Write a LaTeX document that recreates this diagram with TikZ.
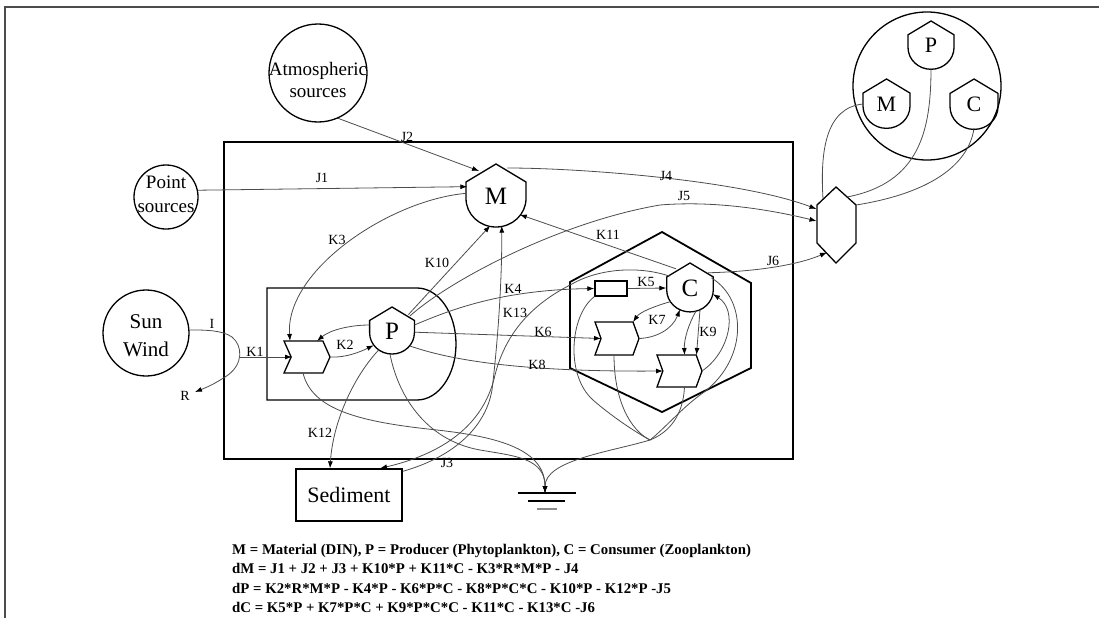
\documentclass[tikz,border=0pt]{standalone}
\usepackage{fontspec}
\setmainfont{Liberation Serif}
\usetikzlibrary{arrows.meta,shapes.symbols,calc}
\newcommand{\shieldshape}[3]{%
  \draw[shp] (#1,#2) -- ({#1+#3},{#2+0.6*#3}) -- ({#1+#3},{#2+1.15*#3})
   .. controls ({#1+#3},{#2+1.674*#3}) and ({#1+0.552*#3},{#2+2.1*#3}) .. (#1,{#2+2.1*#3})
   .. controls ({#1-0.552*#3},{#2+2.1*#3}) and ({#1-#3},{#2+1.674*#3}) .. ({#1-#3},{#2+1.15*#3})
   -- ({#1-#3},{#2+0.6*#3}) -- cycle;}
\begin{document}
\begin{tikzpicture}[x=1pt,y=-1pt,
  conn/.style={draw=black!70, line width=0.8pt},
  arr/.style={conn, -{Latex[length=7pt,width=5pt,color=black]}},
  shp/.style={draw=black, line width=1.3pt},
  lab/.style={font=\fontsize{14}{15}\selectfont, inner sep=0pt},
  anc/.style={circle, inner sep=0pt},
  big/.style={align=center, inner sep=0pt},
  chev/.style={signal, signal from=west, signal to=east, draw=black, line width=1.3pt, inner sep=0pt},
  eqn/.style={anchor=base west, font=\bfseries\fontsize{14.8}{16}\selectfont, inner sep=0pt},
]
\useasboundingbox (0,0) rectangle (1099,618);
\draw[line width=2pt, black!70] (5,618) -- (5,7) -- (1099,7);

% main box
\draw[draw=black, line width=2.4pt] (224,142) rectangle (793,459);
% producer compartment
\draw[shp] (267,288) -- (417,288) .. controls (438.5,288) and (456,313) .. (456,344) .. controls (456,375) and (438.5,400) .. (417,400) -- (267,400) -- cycle;
% consumer hexagon
\draw[line width=1.8pt] (662,232) -- (751,283) -- (751,368) -- (662,412) -- (570,368) -- (570,282) -- cycle;

% sources
\node[circle, shp, minimum size=98pt, inner sep=0pt] (atm) at (318,73) {};
\node[big, font=\fontsize{19}{22}\selectfont] (atmtxt) at (318,80) {Atmospheric\\sources};
\node[circle, shp, minimum size=64pt, inner sep=0pt] (pts) at (166,197) {};
\node[big, font=\fontsize{19}{24}\selectfont] (ptstxt) at (166,194) {Point\\sources};
\node[circle, shp, minimum size=86pt, inner sep=0pt] (sun) at (146,333) {};
\node[big, font=\fontsize{21}{28}\selectfont] (suntxt) at (146,336) {Sun\\Wind};

% state variables
\shieldshape{496}{164}{30}
\node[anc, minimum size=60pt, font=\fontsize{25}{25}\selectfont] (Mn) at (496,196) {M};
\shieldshape{392}{307}{22.4}
\node[anc, minimum size=46pt, font=\fontsize{25}{25}\selectfont] (Pn) at (392,331) {P};
\shieldshape{690}{263}{23.3}
\node[anc, minimum size=47pt, font=\fontsize{25}{25}\selectfont] (Cn) at (690,288) {C};

% processes
\node[chev, signal pointer angle=132, minimum width=46pt, minimum height=32pt] (ch1) at (307,357) {};
\node[chev, signal pointer angle=140, minimum width=44pt, minimum height=33pt] (ch6) at (617,338.5) {};
\node[chev, signal pointer angle=140, minimum width=45pt, minimum height=32pt] (ch8) at (679.5,371) {};
\node[draw, line width=1.3pt, minimum width=32pt, minimum height=15pt, inner sep=0pt] (rim) at (611,288.5) {};

% sediment
\node[shp, minimum width=106pt, minimum height=52pt, font=\fontsize{22}{24}\selectfont, inner sep=0pt] (sed) at (349,495) {Sediment};

% export
\node[minimum width=39pt, minimum height=76pt, inner sep=0pt] (exh) at (836,225) {};
\draw[shp] (836,187) -- (856,205) -- (856,243) -- (836,263) -- (817,243) -- (817,205) -- cycle;

% pool
\node[circle, shp, minimum size=148pt, inner sep=0pt] (pool) at (927,86) {};
\shieldshape{931}{21}{23}
\node[anc, minimum size=46pt, font=\fontsize{22}{22}\selectfont] (tPn) at (931,45) {P};
\shieldshape{886.5}{79}{23.5}
\node[anc, minimum size=47pt, font=\fontsize{22}{22}\selectfont] (tMn) at (886.5,104) {M};
\shieldshape{974}{79}{24}
\node[anc, minimum size=48pt, font=\fontsize{22}{22}\selectfont] (tCn) at (974,104) {C};

% ground
\coordinate (gnd) at (545,493);
\draw[line width=1.2pt] (518,493) -- (576,493);
\draw[line width=1.2pt] (528,501) -- (565,501);
\draw[line width=1.2pt, black!45] (537,509) -- (557,509);

\coordinate (Rpt) at (195,392);
\coordinate (k1s) at (240,357);
\coordinate (jc) at (650,440);

% connectors
\draw[arr] (pts.12) -- (Mn.162);
\draw[arr] (atm.-66) -- (Mn.124);
\draw[arr] (Mn.68) .. controls (580,168) and (740,180) .. ($(exh.center)+(-19.5,-16)$);
\draw[arr] (Pn.40) .. controls (450,280) and (560,222) .. (660,205) .. controls (720,200) and (780,212) .. ($(exh.center)+(-19.5,-4)$);
\draw[arr] (Cn.40) .. controls (740,272) and (790,268) .. ($(exh.center)+(-9,27.5)$);

\draw[arr] (sun.4) .. controls (205,330) and (222,330) .. (232,337) .. controls (243,346) and (243,364) .. (228,375) .. controls (215,384) and (205,388) .. (Rpt);
\draw[arr] (k1s) -- ($(ch1.center)+(-15,0)$);

\draw[arr] (Pn.165) .. controls (350,325) and (330,330) .. ($(ch1.center)+(10,-16)$);
\draw[arr] ($(ch1.center)+(23,0)$) .. controls (345,358) and (360,352) .. (Pn.218);
\draw[arr] (Mn.175) .. controls (390,200) and (285,270) .. ($(ch1.center)+(-17,-16)$);

\draw[arr] (Pn.45) -- (Mn.-101);
\draw[arr] (Pn.15) .. controls (450,310) and (500,290) .. (rim.west);
\draw[arr] (Pn.-3) -- ($(ch6.center)+(-16,0)$);
\draw[arr] (Pn.-40) .. controls (450,360) and (520,372) .. ($(ch8.center)+(-16.5,0)$);
\draw[arr] (rim.east) -- (Cn.180);
\draw[arr] (Cn.126) -- (Mn.-38);

\draw[arr] (Cn.215) .. controls (655,306) and (640,312) .. ($(ch6.center)+(16,-16.5)$);
\draw[arr] ($(ch6.center)+(22,0)$) .. controls (655,338) and (672,330) .. (Cn.245);
\draw[arr] (Cn.-65) -- ($(ch8.center)+(17,-16)$);
\draw[arr] (Cn.-75) .. controls (688,325) and (684,340) .. ($(ch8.center)+(5,-16)$);
\draw[arr] ($(ch8.center)+(22.5,0)$) .. controls (730,352) and (738,310) .. (Cn.-15);

\draw[arr] (Cn.150) .. controls (640,266) and (600,268) .. (572,284) .. controls (530,305) and (505,335) .. (495,375) .. controls (485,420) and (450,452) .. ($(sed.north)+(31,0)$);
\draw[arr] ($(sed.north east)+(0,3)$) .. controls (450,458) and (485,430) .. (492,390) .. controls (498,340) and (502,280) .. (Mn.-79);
\draw[arr] (Pn.235) .. controls (355,375) and (333,420) .. ($(sed.north)+(-19,0)$);

\draw[arr] ($(ch1.center)+(-4,16)$) .. controls (312,410) and (360,422) .. (437,430) .. controls (500,437) and (545,450) .. (gnd);
\draw[arr] (Pn.-95) .. controls (398,395) and (425,440) .. (480,450) .. controls (515,456) and (545,458) .. (gnd);

\draw[conn] (rim.south west) .. controls (570,315) and (565,375) .. (593,400) .. controls (610,415) and (635,432) .. (jc);
\draw[conn] ($(ch6.center)+(-3,16.5)$) .. controls (614,400) and (630,430) .. (jc);
\draw[conn] ($(ch8.center)+(5,16)$) .. controls (683,415) and (670,432) .. (jc);
\draw[conn] (Cn.25) .. controls (748,300) and (748,362) .. (700,395) .. controls (680,410) and (665,428) .. (jc);
\draw[arr] (jc) .. controls (610,452) and (545,460) .. (gnd);

\draw[conn] (tMn.west) .. controls (826,108) and (820,150) .. ($(exh.center)+(-13,-26)$);
\draw[conn] (tPn.south) .. controls (931,130) and (920,183) .. ($(exh.center)+(11,-28)$);
\draw[conn] (tCn.south) .. controls (968,170) and (920,195) .. ($(exh.center)+(20,-20)$);

% labels
\node[lab] (lJ1) at (322,178) {J1};
\node[lab] (lJ2) at (407,137) {J2};
\node[lab] (lJ4) at (666,176) {J4};
\node[lab] (lJ5) at (684,196) {J5};
\node[lab] (lJ6) at (773,261) {J6};
\node[lab] (lJ3) at (447,463) {J3};
\node[lab] (lK1) at (255,352) {K1};
\node[lab] (lK2) at (345,345) {K2};
\node[lab] (lK3) at (337,240) {K3};
\node[lab] (lK4) at (513,289) {K4};
\node[lab] (lK5) at (646,282) {K5};
\node[lab] (lK6) at (543,332) {K6};
\node[lab] (lK7) at (657,320) {K7};
\node[lab] (lK8) at (537,365) {K8};
\node[lab] (lK9) at (708,332) {K9};
\node[lab] (lK10) at (437,263) {K10};
\node[lab] (lK11) at (608,235) {K11};
\node[lab] (lK12) at (320,433) {K12};
\node[lab] (lK13) at (515,313) {K13};
\node[lab] (lI) at (212,324) {I};
\node[lab] (lR) at (185,396) {R};

% equations
\node[eqn] (eq1) at (232,554) {M = Material (DIN), P = Producer (Phytoplankton), C = Consumer (Zooplankton)};
\node[eqn] (eq2) at (232,573.5) {dM = J1 + J2 + J3 + K10*P + K11*C - K3*R*M*P - J4};
\node[eqn] (eq3) at (232,593) {dP = K2*R*M*P - K4*P - K6*P*C - K8*P*C*C - K10*P - K12*P -J5};
\node[eqn] (eq4) at (232,612.5) {dC = K5*P + K7*P*C + K9*P*C*C - K11*C - K13*C -J6};
\end{tikzpicture}
\end{document}
